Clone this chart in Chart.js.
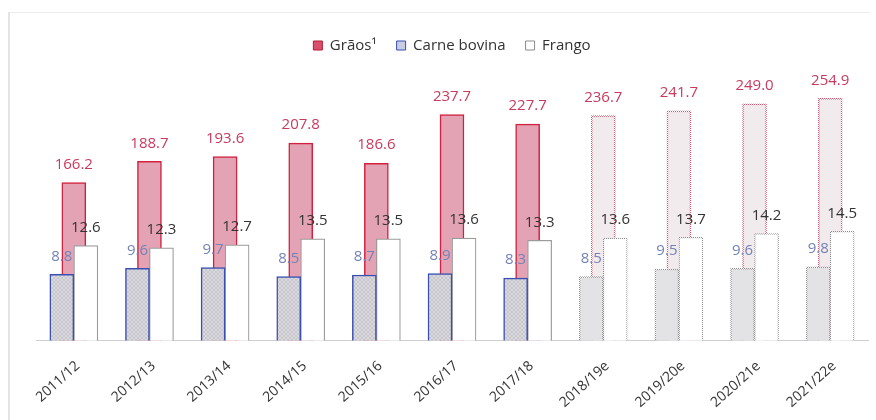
<!DOCTYPE html>
<html><head><meta charset="utf-8">
<script src="https://cdn.jsdelivr.net/npm/chart.js@4"></script>
<style>
html,body{margin:0;padding:0;background:#fff;}
#wrap{position:relative;width:876px;height:420px;overflow:hidden;}
#frame{position:absolute;left:8px;top:12px;width:860px;height:420px;border-left:2px solid #e4e4e4;border-top:1px solid #ececec;}
canvas{position:absolute;left:0;top:0;}
</style></head>
<body><div id="wrap"><div id="frame"></div><canvas id="c" width="876" height="420"></canvas></div>
<script>
const categories = ['2011/12','2012/13','2013/14','2014/15','2015/16','2016/17','2017/18','2018/19e','2019/20e','2020/21e','2021/22e'];
const graos = [166.2,188.7,193.6,207.8,186.6,237.7,227.7,236.7,241.7,249.0,254.9];
const carneBovina = [8.8,9.6,9.7,8.5,8.7,8.9,8.3,8.5,9.5,9.6,9.8];
const frango = [12.6,12.3,12.7,13.5,13.5,13.6,13.3,13.6,13.7,14.2,14.5];
const projecao = [false,false,false,false,false,false,false,true,true,true,true];
const seriesNames = ['Grãos¹','Carne bovina','Frango'];

function mkPattern(draw, w, h){
  const c = document.createElement('canvas'); c.width = w; c.height = h;
  const g = c.getContext('2d'); draw(g);
  return g.createPattern(c, 'repeat');
}
const dotted = col => mkPattern(g => { g.fillStyle = col; g.fillRect(0,0,1,1); g.fillRect(1,1,1,1); }, 2, 2);
const hatch = mkPattern(g => {
  g.fillStyle = '#dadade'; g.fillRect(0,0,4,4);
  g.fillStyle = '#c6c6cc'; g.fillRect(0,0,1,1); g.fillRect(1,1,1,1); g.fillRect(2,2,1,1); g.fillRect(3,3,1,1);
  g.fillRect(3,0,1,1); g.fillRect(2,1,1,1); g.fillRect(1,2,1,1); g.fillRect(0,3,1,1);
}, 4, 4);

const gBg = projecao.map(p => p ? 'rgba(240,233,235,0.9)' : '#e3a3b4');
const gBd = projecao.map(p => p ? dotted('#d9506c') : '#d2213f');
const cBg = projecao.map(p => p ? '#e3e3e6' : hatch);
const cBd = projecao.map(p => p ? dotted('#8c8c8c') : '#3a4fb2');
const fBg = projecao.map(p => '#ffffff');
const fBd = projecao.map(p => p ? dotted('#8c8c8c') : '#9a9a9a');

const labelColors = ['#c83a5e','#7482b6','#333333'];
const valueLabels = {
  id:'valueLabels',
  afterDatasetsDraw(chart){
    const ctx = chart.ctx;
    ctx.save();
    ctx.font = '15px "Open Sans", "Noto Sans", sans-serif';
    ctx.textAlign = 'center'; ctx.textBaseline = 'middle';
    chart.data.datasets.forEach((ds, di) => {
      const meta = chart.getDatasetMeta(di);
      meta.data.forEach((el, i) => {
        ctx.fillStyle = labelColors[di];
        ctx.fillText(ds.data[i].toFixed(1), el.x, el.y - 18);
      });
    });
    ctx.restore();
  }
};

const legendStyles = [
  {fillStyle:'#d9506e', strokeStyle:'#b81c38'},
  {fillStyle:'#c9cde2', strokeStyle:'#3a4fb2'},
  {fillStyle:'#ffffff', strokeStyle:'#8c8c8c'}
];

new Chart(document.getElementById('c'), {
  type:'bar',
  data:{
    labels: categories,
    datasets:[
      {label:seriesNames[0], data:graos, yAxisID:'y', backgroundColor:gBg, borderColor:gBd, borderWidth:1.5, barThickness:24, grouped:false, order:1},
      {label:seriesNames[1], data:carneBovina, yAxisID:'y2', backgroundColor:cBg, borderColor:cBd, borderWidth:1.5, barThickness:24, order:0},
      {label:seriesNames[2], data:frango, yAxisID:'y2', backgroundColor:fBg, borderColor:fBd, borderWidth:1.2, barThickness:24, order:0}
    ]
  },
  options:{
    responsive:false, animation:false, devicePixelRatio:1,
    layout:{padding:{left:36, right:8, top:18, bottom:-8}},
    plugins:{
      tooltip:{enabled:false},
      legend:{
        position:'top',
        labels:{
          font:{size:15, family:'"Open Sans", "Noto Sans", sans-serif'}, color:'#333',
          boxWidth:9, boxHeight:9, padding:20,
          generateLabels: chart => chart.data.datasets.map((ds,i) => ({
            text: ds.label, datasetIndex:i, lineWidth:1, hidden:false,
            fillStyle: legendStyles[i].fillStyle, strokeStyle: legendStyles[i].strokeStyle, fontColor:'#333'
          })),
          sort:(a,b) => a.datasetIndex - b.datasetIndex
        }
      }
    },
    scales:{
      x:{
        grid:{display:false, drawTicks:false},
        border:{display:true, color:'#cfcfcf', width:1},
        ticks:{color:'#333', font:{size:14, family:'"Open Sans", "Noto Sans", sans-serif'}, minRotation:42, maxRotation:42, padding:17, labelOffset:4, autoSkip:false}
      },
      y:{display:false, min:0, max:292},
      y2:{display:false, min:0, max:36.8}
    }
  },
  plugins:[valueLabels]
});
</script>
</body></html>
